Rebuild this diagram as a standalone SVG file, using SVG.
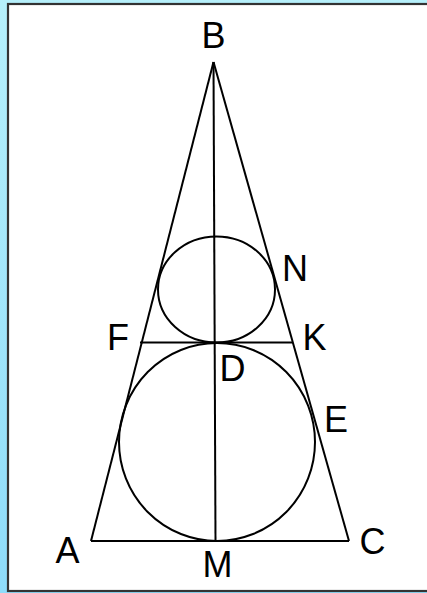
<svg xmlns="http://www.w3.org/2000/svg" width="427" height="593" viewBox="0 0 427 593">
  <defs>
    <linearGradient id="bg" x1="0" y1="0" x2="0" y2="1">
      <stop offset="0" stop-color="#b6f0fb"/>
      <stop offset="1" stop-color="#8edcfa"/>
    </linearGradient>
    <style>
      .ln { stroke: #000; stroke-width: 2; fill: none; }
      .lbl { font-family: "Liberation Sans", Arial, sans-serif; font-size: 36px; fill: #000; text-anchor: middle; }
    </style>
  </defs>
  <rect x="0" y="0" width="427" height="593" fill="url(#bg)"/>
  <rect x="8" y="4" width="430" height="587" fill="#fff" stroke="#333" stroke-width="2.2"/>
  <g id="connectors">
    <line class="ln" x1="91" y1="541" x2="213.5" y2="62"/>
    <line class="ln" x1="213.5" y1="62" x2="349" y2="541"/>
    <line class="ln" x1="91" y1="541" x2="349" y2="541"/>
    <line class="ln" x1="213.5" y1="62" x2="215.5" y2="541"/>
    <line class="ln" x1="140" y1="342.5" x2="293" y2="342.5"/>
  </g>
  <g id="small-circle">
    <ellipse class="ln" cx="216.5" cy="289.5" rx="58.5" ry="53"/>
  </g>
  <g id="big-circle">
    <ellipse class="ln" cx="217" cy="442" rx="98" ry="99"/>
  </g>
  <g id="B"><text class="lbl" x="213.5" y="48">B</text></g>
  <g id="A"><text class="lbl" x="67.5" y="563">A</text></g>
  <g id="M"><text class="lbl" x="217.5" y="577">M</text></g>
  <g id="C"><text class="lbl" x="372.5" y="554">C</text></g>
  <g id="N"><text class="lbl" x="295" y="281">N</text></g>
  <g id="F"><text class="lbl" x="118" y="350">F</text></g>
  <g id="K"><text class="lbl" x="314.5" y="350">K</text></g>
  <g id="D"><text class="lbl" x="232.5" y="381">D</text></g>
  <g id="E"><text class="lbl" x="336" y="432">E</text></g>
</svg>
